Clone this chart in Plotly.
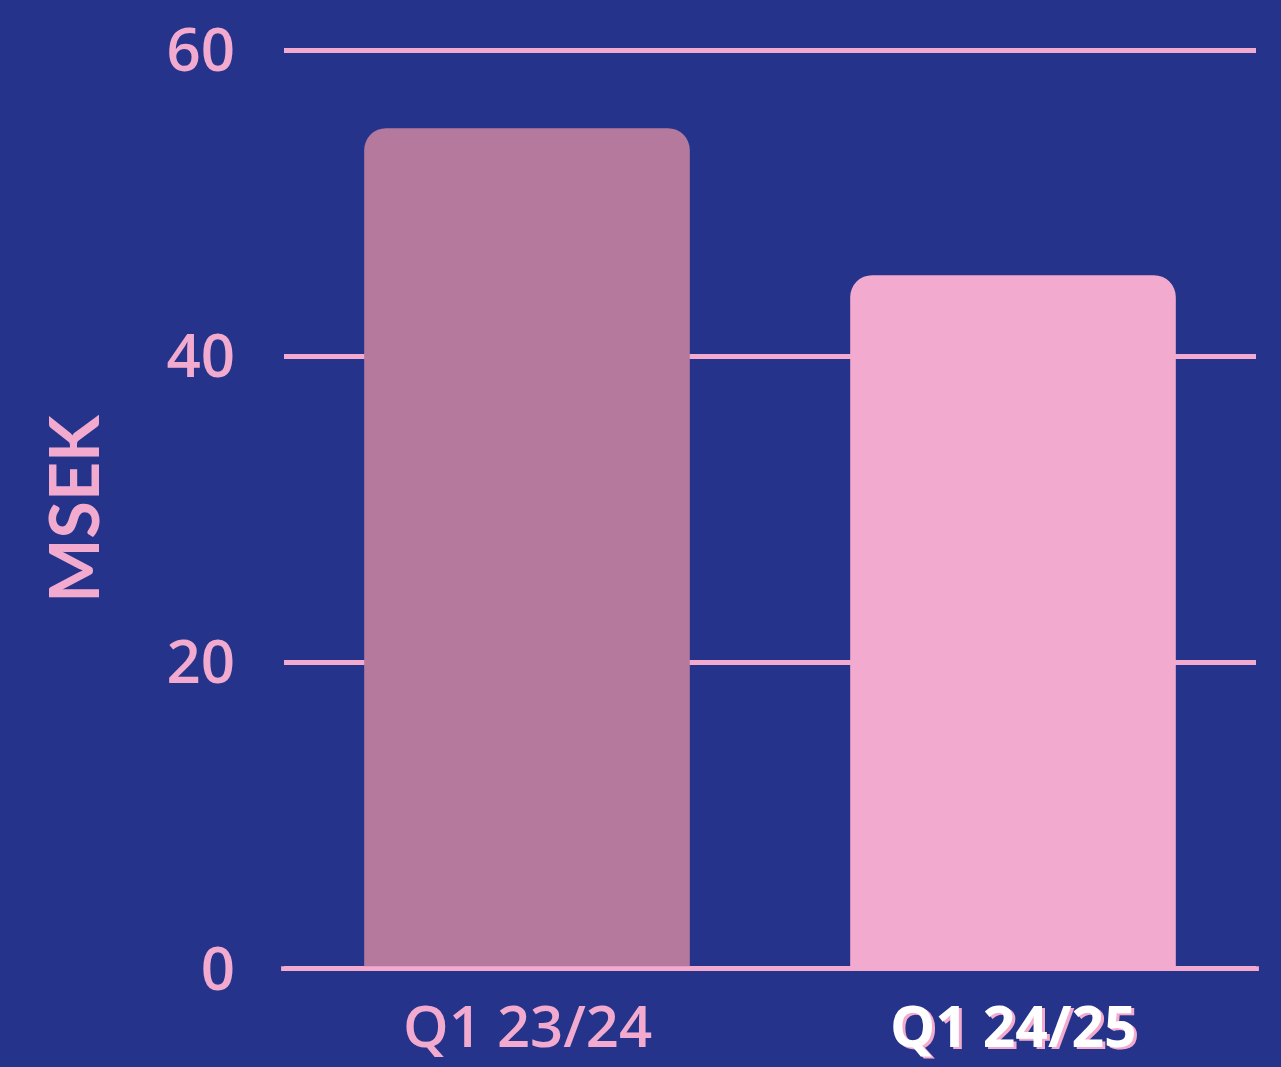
import plotly.graph_objects as go

categories = ["Q1 23/24", "Q1 24/25"]
values = [54.9, 45.3]
bar_colors = ["#b5799e", "#f2abce"]
y_ticks = [0, 20, 40, 60]

BG = "#25348a"
PINK = "#f2abce"

fig = go.Figure()
fig.add_trace(go.Bar(
    x=categories, y=values,
    marker=dict(color=bar_colors, line=dict(width=0), cornerradius=22),
    width=0.67, hoverinfo="x+y",
))

# baseline, slightly wider than the gridlines
fig.add_shape(type="line", xref="paper", yref="y", x0=-0.003, x1=1.003, y0=0, y1=0,
              line=dict(color=PINK, width=5), layer="above")

# category labels as annotations so each can be styled
fig.add_annotation(x=categories[0], y=-0.058, xref="x", yref="paper", text=categories[0],
                   showarrow=False, yanchor="middle",
                   font=dict(family="Open Sans", size=58, color=PINK, weight=600))
fig.add_annotation(x=categories[1], y=-0.058, xref="x", yref="paper", text="<b>" + categories[1] + "</b>",
                   showarrow=False, yanchor="middle",
                   font=dict(family="Open Sans", size=57, color="white", shadow="3px 2px 0px " + PINK))

fig.update_layout(
    width=1281, height=1067,
    paper_bgcolor=BG, plot_bgcolor=BG,
    margin=dict(l=284, r=25, t=47, b=96, autoexpand=False),
    showlegend=False,
    bargap=0.33,
    xaxis=dict(showticklabels=False, showgrid=False, zeroline=False, ticks="", automargin=False),
    yaxis=dict(
        range=[-0.15, 60.2], tickvals=y_ticks, automargin=False,
        showgrid=True, gridcolor=PINK, gridwidth=4.5,
        zeroline=False, ticks="", ticklabelstandoff=48,
        tickfont=dict(family="Open Sans", size=60, color=PINK, weight=600),
        title=dict(text="<b>MSEK</b>", standoff=44,
                   font=dict(family="Lato", size=68, color=PINK)),
    ),
)

fig.write_html("out.html", config={"displayModeBar": False},
               post_script="document.body.style.margin='0';")
